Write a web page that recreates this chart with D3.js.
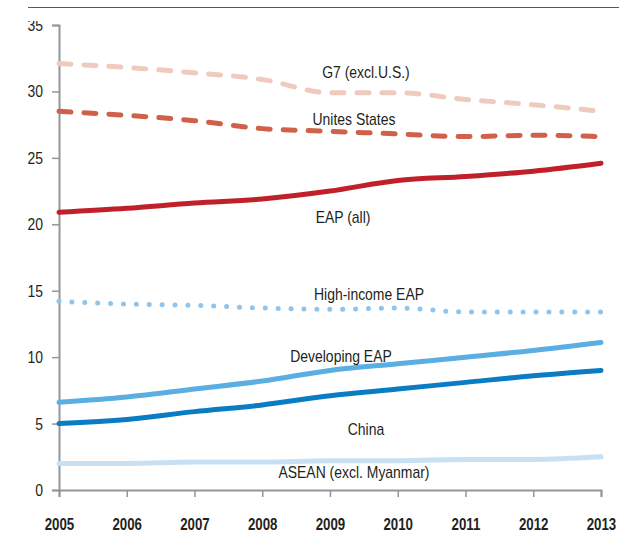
<!DOCTYPE html>
<html><head><meta charset="utf-8">
<script src="https://cdn.jsdelivr.net/npm/d3@7"></script>
<style>
html,body{margin:0;padding:0;background:#fff;}
text{font-family:"Liberation Sans","Arimo",Arial,sans-serif;fill:#231f20;}
</style></head>
<body><svg id="c" width="619" height="540"></svg>
<script>
const years = [2005,2006,2007,2008,2009,2010,2011,2012,2013];
const yTicks = [0,5,10,15,20,25,30,35];
const g7 = [32.1,31.8,31.4,30.9,29.9,29.9,29.4,29.0,28.5];
const us = [28.5,28.2,27.8,27.2,27.0,26.8,26.6,26.7,26.6];
const eapAll = [20.9,21.2,21.6,21.9,22.5,23.3,23.6,24.0,24.6];
const highIncome = [14.2,14.0,13.9,13.7,13.6,13.7,13.4,13.4,13.4];
const developing = [6.6,7.0,7.6,8.2,9.0,9.5,10.0,10.5,11.1];
const china = [5.0,5.3,5.9,6.4,7.1,7.6,8.1,8.6,9.0];
const asean = [2.0,2.0,2.1,2.1,2.2,2.2,2.3,2.3,2.5];

const seriesNames = ["G7 (excl.U.S.)","Unites States","EAP (all)","High-income EAP","Developing EAP","China","ASEAN (excl. Myanmar)"];
const seriesData = [g7,us,eapAll,highIncome,developing,china,asean];
const styles = [
  {color:"#efcbbd", dash:"12,13", lx:366, ly:78},
  {color:"#d0604a", dash:"12,13", lx:354, ly:125},
  {color:"#c0202a", dash:null, lx:343, ly:223},
  {color:"#8fc4ec", dash:"0,12.9", lx:369, ly:300},
  {color:"#5aaee2", dash:null, lx:341, ly:362},
  {color:"#0a7cc4", dash:null, lx:366, ly:435},
  {color:"#c8e0f4", dash:null, lx:354, ly:478}
];

const svg = d3.select("#c");
const x = d3.scaleLinear().domain([2005,2013]).range([59,601]);
const y = d3.scaleLinear().domain([0,35]).range([490,25]);

function squeeze(sel, f){
  sel.each(function(){
    const w = this.getComputedTextLength();
    d3.select(this).attr("textLength", w*f).attr("lengthAdjust","spacingAndGlyphs");
  });
}

// top red rule
svg.append("line").attr("x1",28).attr("x2",619).attr("y1",7.5).attr("y2",7.5)
  .attr("stroke","#d2232a").attr("stroke-width",1.2);

svg.append("clipPath").attr("id","clipTop").append("rect")
  .attr("x",-100).attr("y",21).attr("width",300).attr("height",519);

// axes
const yAxis = svg.append("g").attr("transform","translate(59,0)")
  .attr("clip-path","url(#clipTop)")
  .call(d3.axisLeft(y).tickValues(yTicks).tickSize(7).tickPadding(9).tickFormat(d3.format("d")));
const xAxis = svg.append("g").attr("transform","translate(0,490)")
  .call(d3.axisBottom(x).tickValues(years).tickSize(7).tickPadding(27).tickFormat(d3.format("d")));
[yAxis,xAxis].forEach(a=>{
  a.select(".domain").attr("stroke","#939598").attr("stroke-width",2);
  a.selectAll(".tick line").attr("stroke","#939598").attr("stroke-width",1.5);
  a.selectAll(".tick text").style("font-size","17px").attr("fill","#231f20");
});
yAxis.selectAll(".tick text").call(squeeze,0.82);
xAxis.selectAll(".tick text").style("font-weight","bold").attr("dy","0.35em").call(squeeze,0.78);

const line = d3.line().x((d,i)=>x(years[i])).y(d=>y(d)).curve(d3.curveMonotoneX);

seriesData.forEach((vals,k)=>{
  const s = styles[k];
  const p = svg.append("path").datum(vals).attr("d",line)
    .attr("fill","none").attr("stroke",s.color)
    .attr("stroke-width",5)
    .attr("stroke-linecap","round")
    .attr("stroke-linejoin","round");
  if (s.dash) p.attr("stroke-dasharray", s.dash);
});

seriesNames.forEach((n,k)=>{
  svg.append("text").attr("x",styles[k].lx).attr("y",styles[k].ly)
    .attr("text-anchor","middle").style("font-size","17px").text(n)
    .call(squeeze,0.82);
});
</script></body></html>
